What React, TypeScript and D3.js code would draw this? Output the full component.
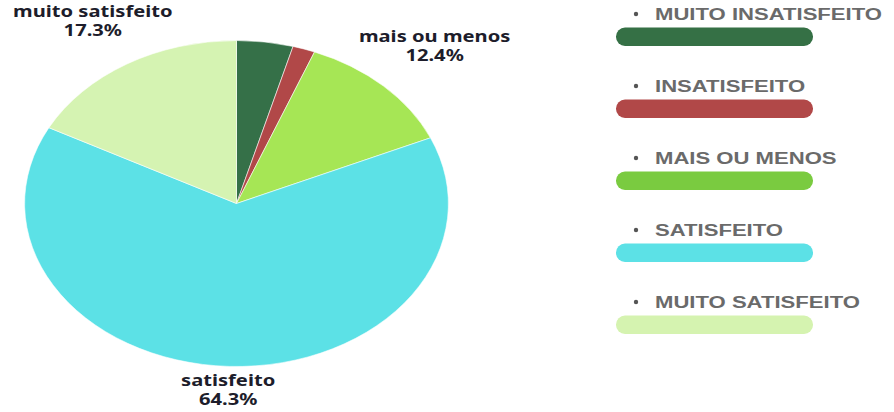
import React, { useEffect, useRef } from 'react';
import * as d3 from 'd3';

const categories = ['muito insatisfeito', 'insatisfeito', 'mais ou menos', 'satisfeito', 'muito satisfeito'];
const legendLabels = ['MUITO INSATISFEITO', 'INSATISFEITO', 'MAIS OU MENOS', 'SATISFEITO', 'MUITO SATISFEITO'];
const values = [4.3, 1.7, 12.4, 64.3, 17.3];
const sliceColors = ['#357048', '#b14848', '#a6e655', '#5ce1e6', '#d5f3b2'];
const legendColors = ['#357045', '#b14848', '#7acb40', '#5ce1e6', '#d5f3b0'];
const labelled = [false, false, true, true, true];

// the whole picture is stretched horizontally by this factor
const SX = 1.3;
const W = 894;
const H = 412;

const App = () => {
  const ref = useRef<SVGSVGElement>(null);

  useEffect(() => {
    if (!ref.current) return;
    const svg = d3.select(ref.current);
    svg.selectAll('*').remove();

    const cx = 236.5 / SX;
    const cy = 203.5;
    const R = 163;

    const pie = d3.pie<number>().sort(null).value(d => d)(values);
    const arc = d3.arc<d3.PieArcDatum<number>>().innerRadius(0).outerRadius(R);

    const g = svg.append('g').attr('transform', `translate(${cx},${cy})`);
    g.selectAll('path')
      .data(pie)
      .enter().append('path')
      .attr('d', arc)
      .attr('fill', (d, i) => sliceColors[i])
      .attr('stroke', '#fff')
      .attr('stroke-width', 0.5);

    // labels outside the pie, pushed out until the text block clears the edge
    const gap = 2;
    const lineH = 19;
    pie.forEach((d, i) => {
      if (!labelled[i]) return;
      const lab = g.append('g');
      const addLine = (txt: string, y: number) => lab.append('text')
        .attr('x', 0).attr('y', y)
        .attr('text-anchor', 'middle')
        .style('font-family', '"Noto Sans", sans-serif')
        .style('font-weight', 700)
        .style('font-size', '15.5px')
        .attr('fill', '#1d1d2b')
        .text(txt);
      addLine(categories[i], 0);
      addLine(`${d3.format('.1f')(values[i])}%`, lineH);
      const bb = (lab.node() as SVGGElement).getBBox();
      const hw = bb.width / 2;
      const hh = bb.height / 2;
      const a = (d.startAngle + d.endAngle) / 2;
      const sx = Math.sin(a);
      const sy = -Math.cos(a);
      const dist = R + gap + Math.abs(sx) * hw + Math.abs(sy) * hh;
      lab.attr('transform', `translate(${sx * dist - (bb.x + hw)},${sy * dist - (bb.y + hh)})`);
    });

    // legend
    const lg = svg.append('g');
    const step = 72;
    legendLabels.forEach((label, i) => {
      const row = lg.append('g').attr('transform', `translate(0,${i * step})`);
      row.append('ellipse')
        .attr('cx', 636 / SX).attr('cy', 14)
        .attr('rx', 2.2 / SX).attr('ry', 2.2)
        .attr('fill', '#555');
      row.append('text')
        .attr('x', 655 / SX).attr('y', 20)
        .style('font-family', '"Liberation Sans", Arial, sans-serif')
        .style('font-weight', 700)
        .style('font-size', '17px')
        .attr('fill', '#6a6a6a')
        .text(label);
      row.append('rect')
        .attr('x', 616 / SX).attr('y', 27.5)
        .attr('width', (813 - 616) / SX).attr('height', 18.5)
        .attr('rx', 9 / SX).attr('ry', 9)
        .attr('fill', legendColors[i]);
    });
  }, []);

  return (
    <div style={{ position: 'fixed', left: 0, top: 0, width: W, height: H, background: '#fff' }}>
      <svg
        ref={ref}
        width={W}
        height={H}
        viewBox={`0 0 ${W / SX} ${H}`}
        preserveAspectRatio="none"
      />
    </div>
  );
};

export default App;
